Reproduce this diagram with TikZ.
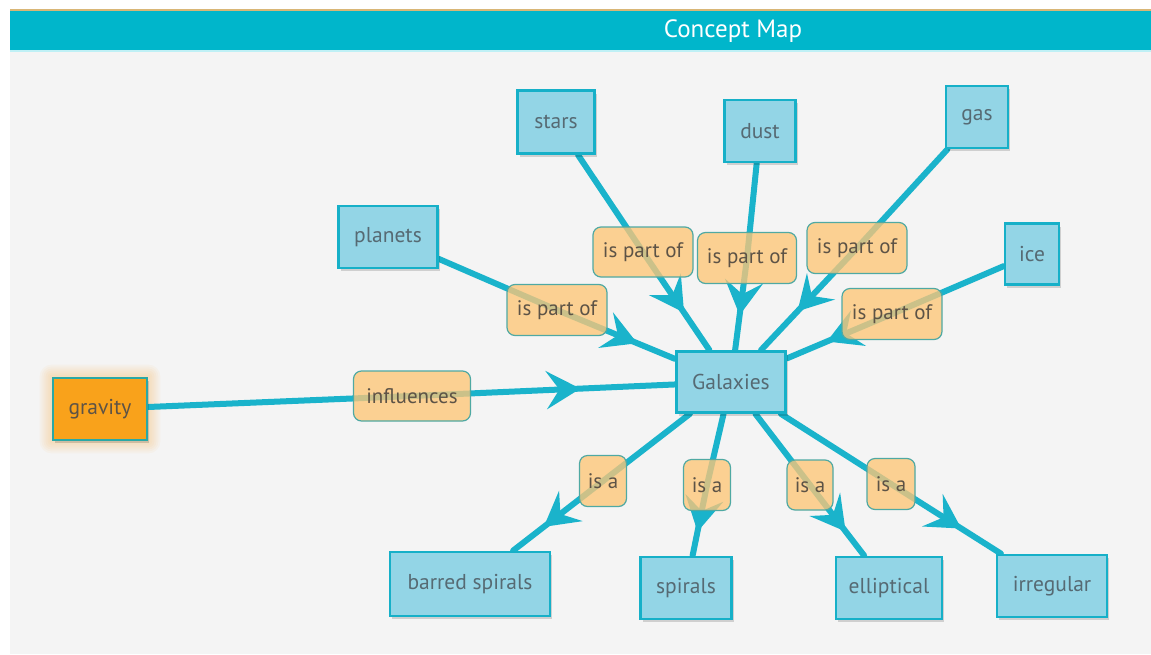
\documentclass[tikz,border=0pt]{standalone}
\usepackage{fontspec}
\setmainfont{PT Sans}
\usetikzlibrary{arrows.meta,decorations.markings,shadows,backgrounds}
\definecolor{hdr}{HTML}{00B6CB}
\definecolor{hdrline}{HTML}{D9B676}
\definecolor{hdrlow}{HTML}{BFF0F5}
\definecolor{pagebg}{HTML}{F4F4F4}
\definecolor{linec}{HTML}{1AB3CB}
\definecolor{nodefill}{HTML}{93D5E6}
\definecolor{nodeborder}{HTML}{16B0C8}
\definecolor{labfill}{HTML}{FDC677}
\definecolor{labborder}{HTML}{4FA9A3}
\definecolor{gravfill}{HTML}{F9A21B}
\definecolor{gravborder}{HTML}{2AA8A6}
\definecolor{txt}{HTML}{566A73}
\definecolor{labtxt}{HTML}{5D5346}
\pgfdeclarelayer{bg}
\pgfdeclarelayer{edges}
\pgfsetlayers{bg,edges,main}
\tikzset{
  concept/.style={draw=nodeborder, line width=2.8pt, fill=nodefill, text=txt,
    font=\fontsize{21.5}{25}\selectfont, inner sep=0pt,
    drop shadow={shadow xshift=2pt, shadow yshift=-3pt, opacity=0.15, fill=black}},
  sz/.style 2 args={minimum width=#1pt, minimum height=#2pt},
  lab/.style={draw=labborder, line width=1.2pt, fill=labfill, fill opacity=0.78,
    text opacity=1, draw opacity=1, rounded corners=8pt, text=labtxt,
    font=\fontsize{21}{25}\selectfont, inner sep=0pt},
  conn/.style={draw=linec, line width=6pt, line cap=round},
  midarr/.style={postaction={decorate}, decoration={markings,
    mark=at position #1 with {\arrow[linec]{Stealth[length=34pt,width=38pt,inset=13pt]}}}},
  ttl/.style={text=white, font=\fontsize{25}{28}\selectfont, inner sep=0pt}
}
\begin{document}
\begin{tikzpicture}[x=1pt,y=-1pt]
\useasboundingbox (0,0) rectangle (1151,654);
\begin{pgfonlayer}{bg}
  \fill[white] (0,0) rectangle (1151,654);
  \fill[pagebg] (10,52) rectangle (1151,654);
  \fill[hdr] (10,11) rectangle (1151,50);
  \draw[hdrline, line width=1.5pt] (10,10) -- (1151,10);
  \draw[hdrlow, line width=2pt] (10,51) -- (1151,51);
\end{pgfonlayer}
\node[ttl] (title) at (733,31) {Concept Map};

% concepts
\node[concept, sz={77}{63}] (stars) at (556,122) {stars};
\node[concept, sz={71}{62}] (dust) at (760,131) {dust};
\node[concept, sz={62}{62}] (gas) at (977,117) {gas};
\node[concept, sz={99}{62}] (planets) at (388,237) {planets};
\node[concept, sz={54}{61}] (ice) at (1032,254) {ice};
\node[concept, sz={109}{61}] (gal) at (731,382) {Galaxies};
\node[concept, sz={94}{62}, fill=gravfill, draw=gravborder, text=labtxt] (grav) at (100,409) {gravity};
\node[concept, sz={160}{64}] (barred) at (470,584) {barred spirals};
\node[concept, sz={91}{62}] (spirals) at (686,588) {spirals};
\node[concept, sz={106}{62}] (ellip) at (889,588) {elliptical};
\node[concept, sz={110}{62}] (irreg) at (1052,586) {irregular};

% glow around gravity
\begin{pgfonlayer}{bg}
  \foreach \r in {2,4,...,12}{
    \fill[gravfill, opacity=0.045, rounded corners=\r pt]
      ([xshift=-\r pt, yshift=\r pt]grav.north west) rectangle ([xshift=\r pt, yshift=-\r pt]grav.south east);
  }
\end{pgfonlayer}

% linking labels
\node[lab, sz={100}{50}] (l1) at (643,252) {is part of};
\node[lab, sz={99}{51}] (l2) at (747,258) {is part of};
\node[lab, sz={100}{51}] (l3) at (857,248) {is part of};
\node[lab, sz={100}{51}] (l4) at (557,310) {is part of};
\node[lab, sz={100}{51}] (l5) at (892,314) {is part of};
\node[lab, sz={117}{50}] (l6) at (412,396) {influences};
\node[lab, sz={47}{51}] (l7) at (603,481) {is a};
\node[lab, sz={47}{51}] (l8) at (707,485) {is a};
\node[lab, sz={46}{50}] (l9) at (810,485) {is a};
\node[lab, sz={48}{51}] (l10) at (891,484) {is a};

% connectors
\begin{pgfonlayer}{edges}
  \draw[conn] (stars) -- (l1.center);
  \draw[conn, midarr=0.62] (l1.center) -- (gal);
  \draw[conn] (dust) -- (l2.center);
  \draw[conn, midarr=0.62] (l2.center) -- (gal);
  \draw[conn] (gas) -- (l3.center);
  \draw[conn, midarr=0.62] (l3.center) -- (gal);
  \draw[conn] (planets) -- (l4.center);
  \draw[conn, midarr=0.68] (l4.center) -- (gal);
  \draw[conn] (ice) -- (l5.center);
  \draw[conn, midarr=0.62] (l5.center) -- (gal);
  \draw[conn] (grav) -- (l6.center);
  \draw[conn, midarr=0.64] (l6.center) -- (gal);
  \draw[conn] (gal) -- (l7.center);
  \draw[conn, midarr=0.66] (l7.center) -- (barred);
  \draw[conn] (gal) -- (l8.center);
  \draw[conn, midarr=0.66] (l8.center) -- (spirals);
  \draw[conn] (gal) -- (l9.center);
  \draw[conn, midarr=0.66] (l9.center) -- (ellip);
  \draw[conn] (gal) -- (l10.center);
  \draw[conn, midarr=0.64] (l10.center) -- (irreg);
\end{pgfonlayer}
\end{tikzpicture}
\end{document}
